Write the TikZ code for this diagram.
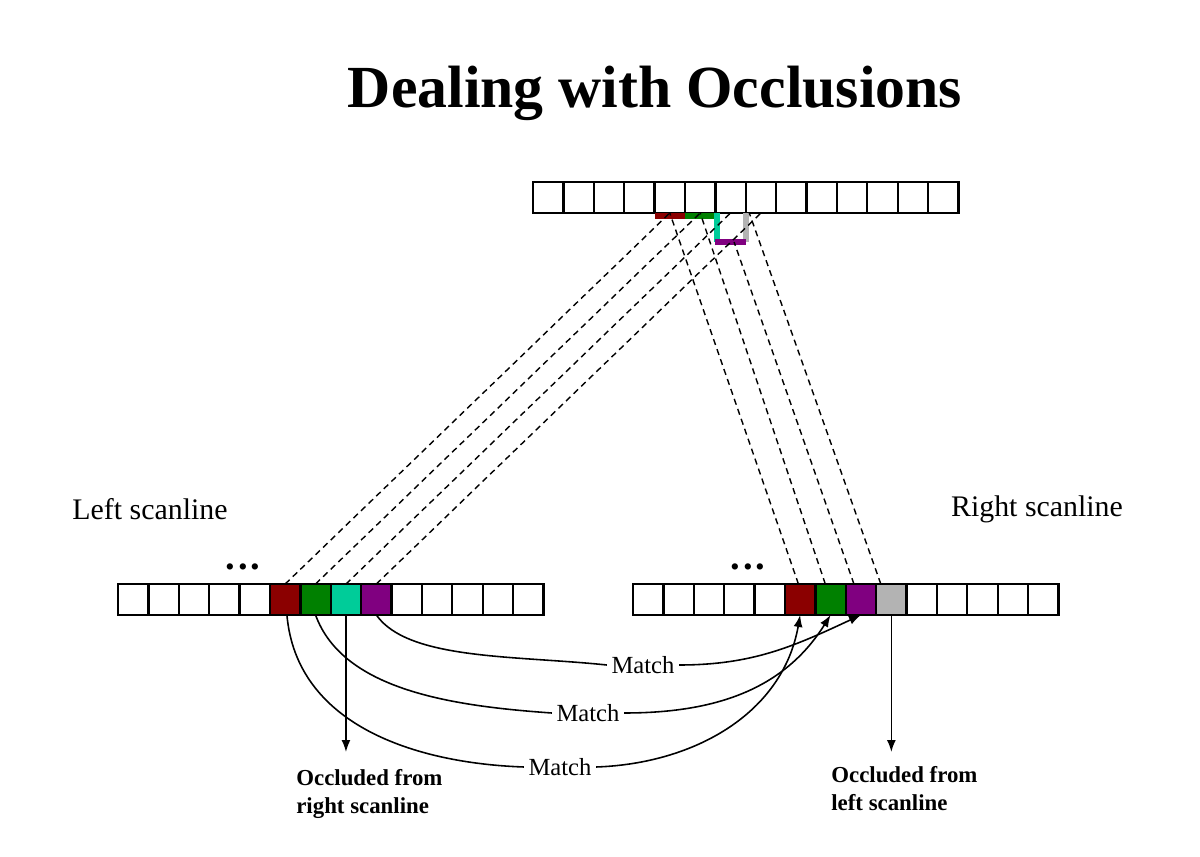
\documentclass[tikz,border=0pt]{standalone}
\usepackage{fontspec}
\setmainfont{Liberation Serif}
\usepackage{xcolor}
\usepackage{tikz}
\usetikzlibrary{arrows.meta,positioning,calc}
\definecolor{ocred}{HTML}{8B0000}
\definecolor{ocgreen}{HTML}{008000}
\definecolor{octeal}{HTML}{00CC99}
\definecolor{ocpurple}{HTML}{800080}
\definecolor{ocgray}{HTML}{B3B3B3}
\tikzset{
  cell/.style={draw=black,line width=1.3pt,minimum width=6.08mm,minimum height=6.2mm,
    inner sep=0pt,outer sep=0pt},
  depth/.style={line width=3.6pt},
  ray/.style={line width=0.8pt,dash pattern=on 3.5pt off 2.5pt},
  link/.style={line width=0.9pt},
  arr/.style={link,-{Latex[length=2.4mm,width=1.8mm]}},
  lbl/.style={font=\fontsize{17}{20}\selectfont},
  matchlbl/.style={font=\fontsize{14}{16}\selectfont,inner sep=2.5pt},
  occ/.style={font=\bfseries\fontsize{13}{16}\selectfont,align=left,inner sep=0pt},
  dotsrow/.style={font=\bfseries\fontsize{22}{24}\selectfont,anchor=base,inner sep=0pt},
}
\begin{document}
\begin{tikzpicture}[x=0.02cm,y=-0.02cm]
\useasboundingbox (0,0) rectangle (1200,857);
\node[font=\bfseries\fontsize{34}{40}\selectfont] (title) at (655,93) {Dealing with Occlusions};
% scanlines
\node[cell] (t1) at (548.2,197.5) {};
\node[cell] (l1) at (133.2,599.5) {};
\node[cell] (r1) at (648.2,599.5) {};
\foreach \i [remember=\i as \j (initially 1)] in {2,...,14} {
  \node[cell,right=0pt of t\j] (t\i) {};
  \node[cell,right=0pt of l\j] (l\i) {};
  \node[cell,right=0pt of r\j] (r\i) {};
}
\foreach \i/\c in {6/ocred,7/ocgreen,8/octeal,9/ocpurple}
  \draw[cell,fill=\c] (l\i.south west) rectangle (l\i.north east);
\foreach \i/\c in {6/ocred,7/ocgreen,8/ocpurple,9/ocgray}
  \draw[cell,fill=\c] (r\i.south west) rectangle (r\i.north east);
\node[lbl] (lname) at (150,509) {Left scanline};
\node[lbl] (rname) at (1037,509) {Right scanline};
\node[dotsrow] (ldots) at (243,570) {.\kern1.8pt.\kern1.8pt.};
\node[dotsrow] (rdots) at (748,570) {.\kern1.8pt.\kern1.8pt.};
% surface depth
\coordinate (stepA) at ($(t6.south east)+(0,29)$);
\coordinate (stepB) at ($(t7.south east)+(0,29)$);
\coordinate (purmid) at ($(stepA)!0.5!(stepB)$);
\draw[depth,ocred] ([yshift=-1.6pt]t5.south west) -- ([yshift=-1.6pt]t5.south east);
\draw[depth,ocgreen] ([yshift=-1.6pt]t6.south west) -- ([yshift=-1.6pt]t6.south east);
\draw[depth,octeal] ([xshift=0.8pt]t6.south east) -- ([xshift=0.8pt]stepA);
\draw[depth,ocgray] (t7.south east) -- (stepB);
\draw[depth,ocpurple] (stepA) -- (stepB);
% rays
\draw[ray] (l6.north) -- (t5.south);
\draw[ray] (l7.north) -- (t6.south);
\draw[ray] (l8.north) -- (t7.south);
\draw[ray] (l9.north) -- (t8.south);
\draw[ray] ([xshift=-1pt]r6.north) -- (t5.south);
\draw[ray] ([xshift=-3pt]r7.north) -- (t6.south);
\draw[ray] ([xshift=-4pt]r8.north) -- ([xshift=2pt]purmid);
\draw[ray] ([xshift=-6pt]r9.north) -- ([xshift=2pt]t7.south east);
% matches
\node[matchlbl] (m1) at (643,665) {Match};
\node[matchlbl] (m2) at (588,713) {Match};
\node[matchlbl] (m3) at (560,767) {Match};
\draw[link] (l9.south) to[out=-55,in=174,out looseness=0.6] (m1.west);
\draw[arr] (m1.east) to[out=0,in=-155] (r8.south);
\draw[link] (l7.south) to[out=-70,in=176,out looseness=0.8] (m2.west);
\draw[arr] (m2.east) to[out=0,in=-122] (r7.south);
\draw[link] ([xshift=1pt]l6.south) to[out=-85,in=178] (m3.west);
\draw[arr] (m3.east) to[out=2,in=-100] (r6.south);
% occluded
\node[occ,anchor=north west] (occl) at (296,769) {Occluded from\\right scanline};
\node[occ,anchor=north west] (occr) at (831,766) {Occluded from\\left scanline};
\coordinate (occltip) at (l8.south |- 0,752);
\coordinate (occrtip) at (r9.south |- 0,752);
\draw[arr] (l8.south) -- (occltip);
\draw[arr] (r9.south) -- (occrtip);
\end{tikzpicture}
\end{document}
